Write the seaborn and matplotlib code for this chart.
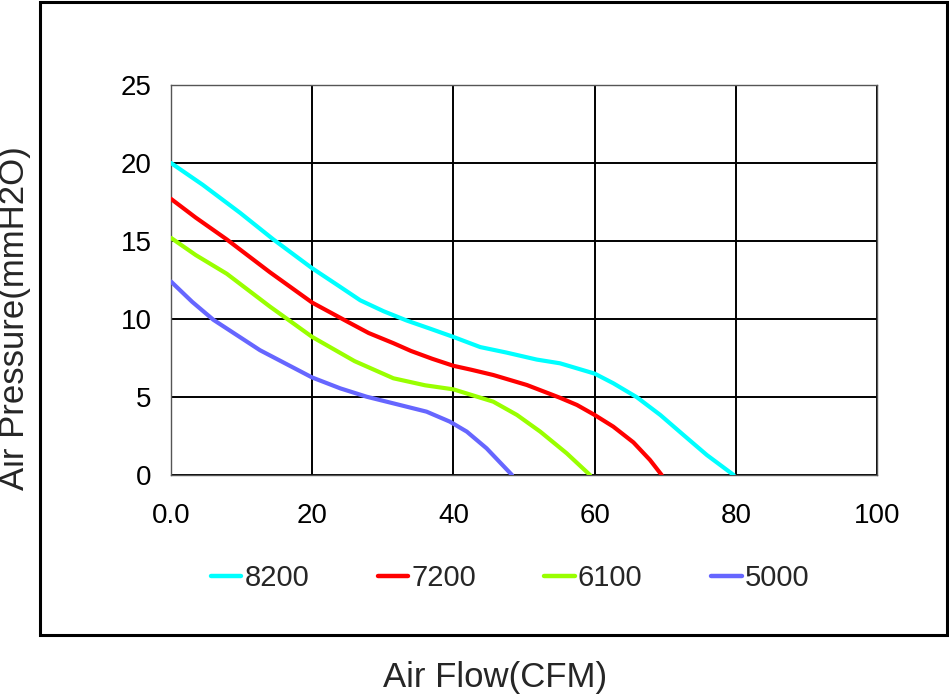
import pandas as pd
import seaborn as sns
import matplotlib.pyplot as plt
from matplotlib.patches import Rectangle
from matplotlib.lines import Line2D

# fan curves, CFM vs mmH2O
flow_8200 = [0, 4.5, 9.8, 14.5, 20, 23.5, 26.8, 30.1, 33.4, 36.7, 40, 43.8, 47.5, 51.8,
             55.1, 60, 62.65, 66, 69.3, 72.6, 75.9, 79.7]
pres_8200 = [20.0, 18.6, 16.8, 15.1, 13.25, 12.2, 11.2, 10.5, 9.9, 9.38, 8.85, 8.2, 7.85, 7.4,
             7.16, 6.5, 5.88, 4.98, 3.85, 2.56, 1.28, 0]
flow_7200 = [0, 3.5, 7.9, 14, 20, 24.9, 28, 31.5, 34, 37, 40, 42.5, 45.65, 50.4, 55.1, 57.5,
             60, 62.65, 65.5, 67.85, 69.5]
pres_7200 = [17.7, 16.5, 15.1, 13.0, 11.05, 9.85, 9.1, 8.45, 7.95, 7.45, 7.0, 6.75, 6.41, 5.77, 4.95,
             4.49, 3.85, 3.1, 2.09, 0.96, 0]
flow_6100 = [0, 3.5, 7.9, 14, 20, 26, 31.5, 36, 40, 45.65, 49, 52.3, 56.05, 59.35]
pres_6100 = [15.2, 14.1, 12.9, 10.8, 8.85, 7.3, 6.2, 5.75, 5.49, 4.7, 3.85, 2.78, 1.39, 0]
flow_5000 = [0, 3, 6.0, 12.6, 20, 24, 27.7, 32.4, 36.2, 39.5, 41.9, 44.7, 48.3]
pres_5000 = [12.4, 11.1, 9.95, 8.0, 6.25, 5.55, 5.02, 4.49, 4.06, 3.42, 2.78, 1.71, 0]

speeds = ['8200', '7200', '6100', '5000']
colors = {'8200': '#00ffff', '7200': '#ff0000', '6100': '#99ff00', '5000': '#6666ff'}
x_ticks = [0, 20, 40, 60, 80, 100]
x_ticklabels = ['0.0', '20', '40', '60', '80', '100']
y_ticks = [0, 5, 10, 15, 20, 25]

frames = []
for name, fl, pr in [('8200', flow_8200, pres_8200), ('7200', flow_7200, pres_7200),
                     ('6100', flow_6100, pres_6100), ('5000', flow_5000, pres_5000)]:
    frames.append(pd.DataFrame({'flow': fl, 'pressure': pr, 'speed': name}))
df = pd.concat(frames, ignore_index=True)

sns.set_style('white')
plt.rcParams['font.family'] = ['Liberation Sans', 'DejaVu Sans']

fig = plt.figure(figsize=(9.49, 6.94), dpi=100)
ax = fig.add_axes([171 / 949, 1 - 475 / 694, 706 / 949, 390 / 694])

sns.lineplot(data=df, x='flow', y='pressure', hue='speed', hue_order=speeds,
             palette=colors, linewidth=3.0, legend=False, ax=ax, zorder=3)
for ln in ax.get_lines():
    ln.set_solid_joinstyle('round')

ax.set_xlim(0, 100)
ax.set_ylim(0, 25)
ax.set_xticks(x_ticks)
ax.set_xticklabels(x_ticklabels)
ax.set_yticks(y_ticks)
ax.tick_params(axis='both', length=0, labelsize=20, colors='black')
ax.tick_params(axis='x', pad=20)
ax.tick_params(axis='y', pad=14)
ax.grid(True, color='black', linewidth=1.4)
for s in ax.spines.values():
    s.set_color('#555555')
    s.set_linewidth(1.0)
ax.set_xlabel('')
ax.set_ylabel('')

# outer frame around plot + legend
fig.patches.append(Rectangle((40 / 949, 1 - 635 / 694), 907 / 949, 633 / 694,
                             transform=fig.transFigure, fill=False,
                             edgecolor='black', linewidth=2.2))

handles = [Line2D([], [], color=colors[s], linewidth=3.2) for s in speeds]
fig.legend(handles, speeds, loc='center', bbox_to_anchor=(510 / 949, 1 - 578 / 694),
           ncol=4, frameon=False, fontsize=21, handlelength=1.05,
           handletextpad=0.1, columnspacing=2.35)

fig.text(15 / 949, 1 - 318 / 694, 'Air Pressure(mmH2O)', rotation=90,
         ha='center', va='center', fontsize=25)
fig.text(495 / 949, 1 - 677 / 694, 'Air Flow(CFM)', ha='center', va='center',
         fontsize=25)

fig.savefig('out.png', dpi=100)
